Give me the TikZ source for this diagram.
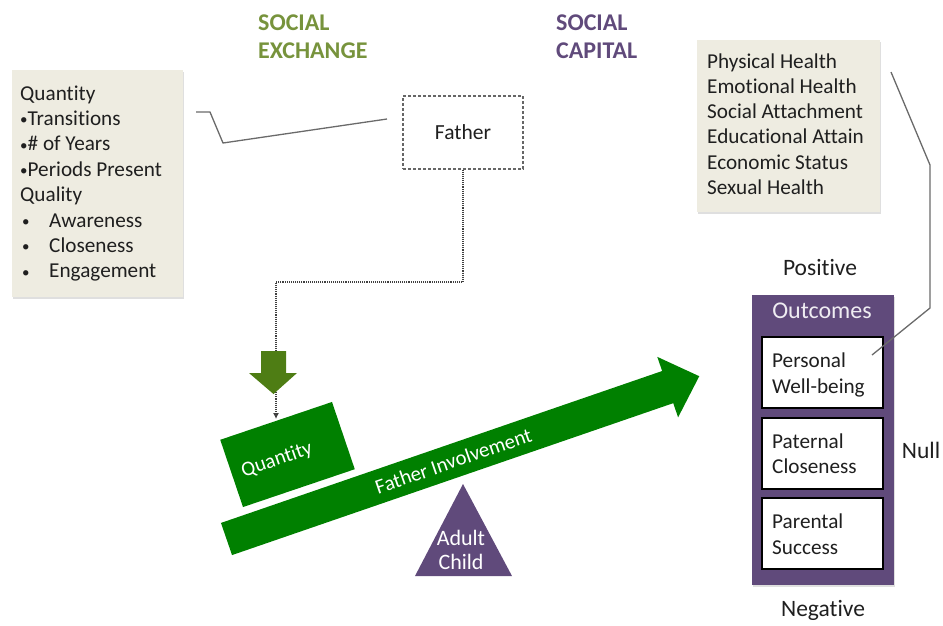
\documentclass[tikz,border=0pt]{standalone}
\usepackage{fontspec}
\setmainfont{Carlito}[Ligatures=NoCommon]
\usetikzlibrary{shadows,arrows.meta}
\definecolor{beige}{HTML}{EEECE1}
\definecolor{barg}{HTML}{008000}
\definecolor{olive}{HTML}{4E7D14}
\definecolor{purp}{HTML}{604A7B}
\definecolor{tgreen}{HTML}{77933C}
\definecolor{lgray}{HTML}{6A6A6A}
\newcommand{\smbul}{{\fontsize{15}{15}\selectfont\raisebox{0.5pt}{•}}}
\tikzset{
  txt/.style={font=\fontsize{21.2}{24}\selectfont, inner sep=0pt, anchor=base west, text=black!88},
  lbl/.style={font=\fontsize{23.5}{26}\selectfont, inner sep=0pt, anchor=center, text=black!88},
  ttl/.style={font=\fontsize{24}{26}\selectfont\bfseries, inner sep=0pt, anchor=base west},
  beigebox/.style={fill=beige, draw=none, drop shadow={opacity=0.25, shadow xshift=1pt, shadow yshift=-2pt}},
  outbox/.style={draw=black, line width=1.8pt, fill=white},
  thinline/.style={draw=lgray, line width=1.3pt},
}
\begin{document}
\begin{tikzpicture}[x=1pt,y=-1pt]
\useasboundingbox (0,0) rectangle (943,625);
% titles
\node[ttl, text=tgreen] (se1) at (258,30) {SOCIAL};
\node[ttl, text=tgreen] (se2) at (258,58) {EXCHANGE};
\node[ttl, text=purp] (sc1) at (556,30) {SOCIAL};
\node[ttl, text=purp] (sc2) at (556,58) {CAPITAL};
% left box
\fill[beigebox] (12,70) rectangle (183,297);
\foreach \t [count=\i] in {Quantity,{\smbul Transitions},{\smbul\# of Years},{\smbul Periods Present},Quality,{\makebox[29pt][l]{\hspace{2pt}\smbul}Awareness},{\makebox[29pt][l]{\hspace{2pt}\smbul}Closeness},{\makebox[29pt][l]{\hspace{2pt}\smbul}Engagement}}
  \node[txt] (L\i) at (20,{100+25.4*(\i-1)}) {\t};
% right box
\fill[beigebox] (697,40) rectangle (880,212);
\foreach \t [count=\i] in {Physical Health,Emotional Health,Social Attachment,Educational Attain,Economic Status,Sexual Health}
  \node[txt] (R\i) at (707,{68+25.3*(\i-1)}) {\t};
% connector lines
\coordinate (la) at (196,112);
\coordinate (lb) at (387,119);
\draw[thinline] (la) -- (210,112) -- (223,143) -- (lb);
% father
\node[draw=black!60, densely dashed, line width=1.2pt, minimum width=120pt, minimum height=73pt, font=\fontsize{21.5}{24}\selectfont, text=black!88] (father) at (463,132.5) {Father};
% green bar arrow
\begin{scope}[shift={(226.5,539)}, rotate=19]
  \fill[barg] (0,-17) -- (466.6,-17) -- (466.6,-32) -- (500,0) -- (466.6,32) -- (466.6,17) -- (0,17) -- cycle;
  \node[text=white, font=\fontsize{20.8}{22}\selectfont, rotate=19] (fi) at (240,0) {Father Involvement};
\end{scope}
% quantity box
\begin{scope}[shift={(287.5,454.5)}, rotate=18.7]
  \fill[barg] (-59,-35.5) rectangle (59,35.5);
\end{scope}
\node[text=white, font=\fontsize{20.8}{22}\selectfont, rotate=19] (qty) at (277,460) {Quantity};
% dotted connector
\coordinate (qtop) at (276,419);
\draw[black!75, densely dotted, line width=1.1pt, -{Latex[length=6pt,width=6pt]}] (father.south) -- (463,282) -- (276,282) -- (qtop);
% olive down arrow
\fill[olive] (261,351) -- (286,351) -- (286,373) -- (297,373) -- (273.5,394) -- (249,373) -- (261,373) -- cycle;
% triangle
\fill[purp] (463,484) -- (512,576) -- (415,576) -- cycle;
\node[text=white, font=\fontsize{22}{24}\selectfont, align=center] (ac) at (461,550) {Adult\\Child};
% outcomes
\fill[purp, drop shadow={opacity=0.25, shadow xshift=1pt, shadow yshift=-2pt}] (752,295) rectangle (894,585);
\node[text=white!90!purp, font=\fontsize{24}{26}\selectfont] (oc) at (822,311) {Outcomes};
\node[outbox, minimum width=121pt, minimum height=71pt] (b1) at (822.5,372.5) {};
\node[outbox, minimum width=121pt, minimum height=71pt] (b2) at (822.5,453.5) {};
\node[outbox, minimum width=121pt, minimum height=71pt] (b3) at (822.5,533.5) {};
\node[txt] (b1a) at (772,367) {Personal};
\node[txt] (b1b) at (772,393) {Well-being};
\node[txt] (b2a) at (772,448) {Paternal};
\node[txt] (b2b) at (772,473) {Closeness};
\node[txt] (b3a) at (772,528) {Parental};
\node[txt] (b3b) at (772,554) {Success};
\node[lbl] (pos) at (820,267) {Positive};
\node[lbl] (nul) at (921,450) {Null};
\node[lbl] (neg) at (823,610) {Negative};
% line to outcomes
\coordinate (ra) at (891,72);
\coordinate (rb) at (872,355);
\draw[thinline] (ra) -- (930,165) -- (930,308) -- (rb);
\end{tikzpicture}
\end{document}
